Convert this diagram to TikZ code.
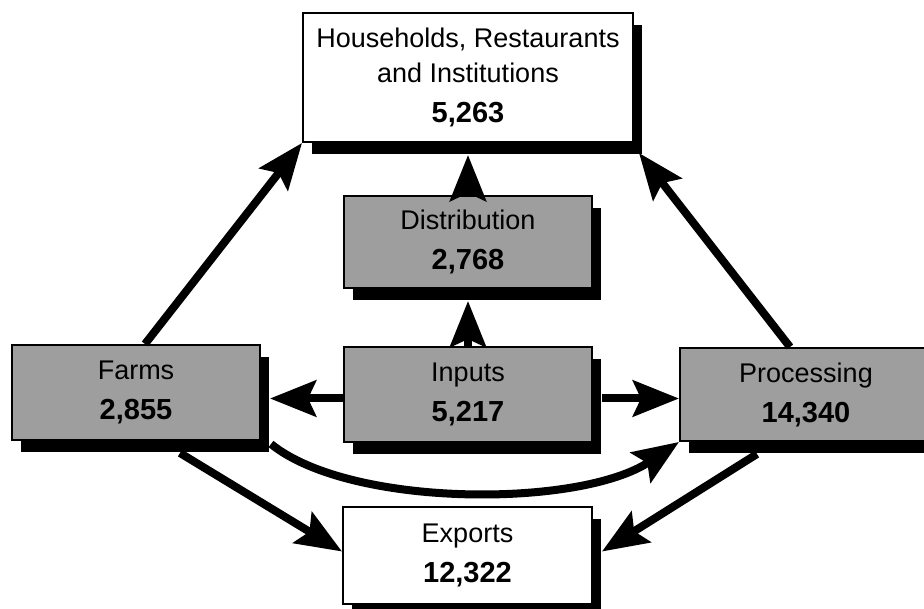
\documentclass[tikz,border=0pt]{standalone}
\usepackage{fontspec}
\setmainfont{Liberation Sans}
\usepackage{tikz}
\usetikzlibrary{arrows.meta,shadows}

\newcommand{\cifra}[1]{{\fontsize{29}{35}\selectfont\bfseries #1}}

\begin{document}
\begin{tikzpicture}[x=1pt, y=-1pt,
    every node/.style={draw, line width=2pt, inner sep=0pt, align=center,
      font=\fontsize{27}{35}\selectfont,
      drop shadow={shadow xshift=9pt, shadow yshift=-12pt, fill=black, opacity=1}},
    blanco/.style={fill=white},
    gris/.style={fill=black!38},
    flujo/.style={line width=8pt, -{Stealth[length=46pt, width=36pt, inset=8pt]}}]
  \useasboundingbox (0,0) rectangle (924,609);

  % Nodos
  \node[blanco, minimum width=330pt, minimum height=129pt] (house) at (468,77.5)
    {Households, Restaurants\\and Institutions\\[5pt]\cifra{5,263}};    % Nodo superior
  \node[gris, minimum width=248pt, minimum height=92pt] (dist) at (468,242)
    {Distribution\\[5pt]\cifra{2,768}};     % Centro arriba
  \node[gris, minimum width=248pt, minimum height=95pt] (inputs) at (468,394.5)
    {Inputs\\[5pt]\cifra{5,217}};           % Centro
  \node[gris, minimum width=248pt, minimum height=95pt] (farms) at (136,392.5)
    {Farms\\[5pt]\cifra{2,855}};            % Izquierda
  \node[gris, minimum width=252pt, minimum height=93pt] (proc) at (806,394.5)
    {Processing\\[5pt]\cifra{14,340}};      % Derecha
  \node[blanco, minimum width=249pt, minimum height=97pt] (exports) at (467.5,555.5)
    {Exports\\[5pt]\cifra{12,322}};         % Nodo inferior

  % Flechas
  \draw[flujo] ([xshift=9pt]farms.north) -- (house.south west);
  \draw[flujo] ([xshift=-16pt]proc.north) -- ([xshift=5pt, yshift=-10pt]house.south east);
  \draw[flujo] (dist.north) -- ([yshift=-12pt]house.south);
  \draw[flujo] (inputs.north) -- ([yshift=-12pt]dist.south);
  \draw[flujo] ([yshift=-4pt]inputs.west) -- ([xshift=9pt, yshift=-6pt]farms.east);
  \draw[flujo] ([xshift=9pt, yshift=-4pt]inputs.east) -- ([yshift=-4pt]proc.west);
  \draw[flujo] ([xshift=44pt, yshift=-12pt]farms.south) -- ([yshift=4pt]exports.west);
  \draw[flujo] ([xshift=-49pt, yshift=-12pt]proc.south) -- ([xshift=9pt, yshift=4pt]exports.east);
  \draw[flujo] ([xshift=10pt, yshift=-3pt]farms.south east)
    .. controls (350,508) and (580,508) .. (proc.south west);
\end{tikzpicture}
\end{document}
